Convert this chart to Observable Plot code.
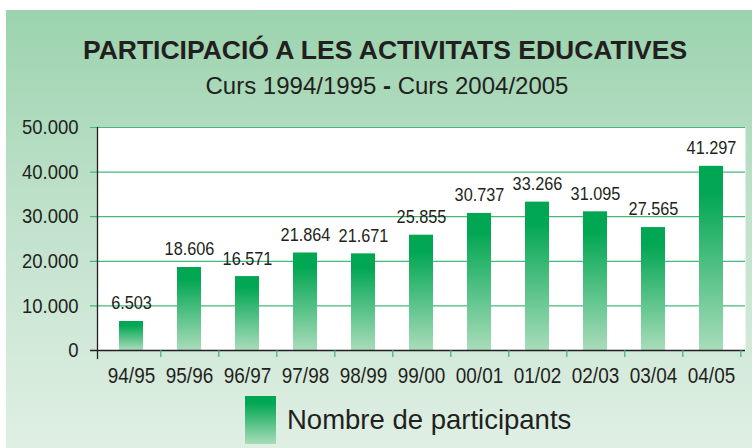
<!DOCTYPE html>
<html><head><meta charset="utf-8">
<script src="https://cdn.jsdelivr.net/npm/d3@7"></script>
<script src="https://cdn.jsdelivr.net/npm/@observablehq/plot@0.6"></script>
<style>
body{margin:0;background:#fff;font-family:"Liberation Sans",Arial,Helvetica,sans-serif;color:#231f20}
#wrap{position:relative;width:752px;height:448px;overflow:hidden;background:#fff}
#panel{position:absolute;left:6px;top:10px;width:746px;height:438px;background:linear-gradient(180deg,#9bd3ae 0%,#bfe1ca 45%,#e0efe4 100%)}
.t{position:absolute;white-space:nowrap;line-height:1}
#title{left:0;width:770px;top:37px;text-align:center;font-weight:bold;font-size:26.5px}
#subtitle{left:0;width:774px;top:74px;text-align:center;font-size:24px}
#chart{position:absolute;left:0;top:105px}
#swatch{position:absolute;left:245px;top:396px;width:31px;height:48px;background:linear-gradient(180deg,#00a651 0%,#02a753 15%,#a9dcba 100%)}
#legtext{left:287px;top:406px;font-size:27.5px}
</style></head><body>
<div id="wrap"><div id="panel"></div>
<div id="title" class="t">PARTICIPACIÓ A LES ACTIVITATS EDUCATIVES</div>
<div id="subtitle" class="t">Curs 1994/1995 <b>-</b> Curs 2004/2005</div>
<div id="chart"></div>
<div id="swatch"></div>
<div id="legtext" class="t">Nombre de participants</div>
</div>
<script>
const years = ["94/95","95/96","96/97","97/98","98/99","99/00","00/01","01/02","02/03","03/04","04/05"];
const participants = [6503,18606,16571,21864,21671,25855,30737,33266,31095,27565,41297];
const yTicks = [0,10000,20000,30000,40000,50000];

const data = years.map((y,i)=>({year:y, value:participants[i]}));
const loc = d3.formatLocale({decimal:",", thousands:".", grouping:[3], currency:["",""]});
const fmt = loc.format(",");

const W = 752, H = 285, ML = 97, MR = 7, MT = 22, MB = 40;
const PI = 0.59, PO = 0.32;
const step = (W - ML - MR) / (years.length - PI + 2*PO);

function defs(){
  const ns = "http://www.w3.org/2000/svg";
  const d = document.createElementNS(ns,"defs");
  const g = document.createElementNS(ns,"linearGradient");
  g.setAttribute("id","barGrad"); g.setAttribute("x1","0"); g.setAttribute("y1","0"); g.setAttribute("x2","0"); g.setAttribute("y2","1");
  [["0%","#00a651"],["15%","#02a753"],["100%","#a9dcba"]].forEach(([o,c])=>{
    const s = document.createElementNS(ns,"stop"); s.setAttribute("offset",o); s.setAttribute("stop-color",c); g.appendChild(s);
  });
  d.appendChild(g);
  return d;
}

const chart = Plot.plot({
  width: W, height: H, marginLeft: ML, marginRight: MR, marginTop: MT, marginBottom: MB,
  style: {background:"transparent", fontFamily:'"Liberation Sans", Arial, sans-serif', color:"#231f20", overflow:"visible"},
  x: {type:"band", domain: years, paddingInner: PI, paddingOuter: PO, label: null},
  y: {domain:[0,50000], label: null},
  marks: [
    defs,
    Plot.frame({fill:"white", stroke:"none"}),
    Plot.ruleY(yTicks.filter(d=>d>0), {stroke:"#45b878", strokeWidth:1.2, insetLeft:-7}),
    Plot.barY(data, {x:"year", y:"value", fill:"url(#barGrad)"}),
    Plot.ruleY([0], {stroke:"#231f20", strokeWidth:1.3, insetLeft:-7}),
    Plot.frame({anchor:"left", stroke:"#231f20", strokeWidth:1.3, insetBottom:-8}),
    Plot.axisX({tickSize:7, stroke:"#3db36f", strokeWidth:1.2, dx: step/2, tickFormat: ()=>"", label:null}),
    Plot.axisX({tickSize:0, tickPadding:17, fontSize:21.5, fill:"#231f20", label:null}),
    Plot.axisY({ticks: yTicks, tickSize:0, tickPadding:19, tickFormat: fmt, fontSize:21, fill:"#231f20", label:null}),
    Plot.text(data, {x:"year", y:"value", text: d=>fmt(d.value), dy:-18, fontSize:18.5, fill:"#231f20"})
  ]
});
document.getElementById("chart").appendChild(chart);
chart.querySelectorAll("text").forEach(el=>{
  if (!el.textContent) return;
  const L = el.getComputedTextLength();
  el.setAttribute("textLength", (L*0.88).toFixed(2));
  el.setAttribute("lengthAdjust","spacingAndGlyphs");
});
</script>
</body></html>
